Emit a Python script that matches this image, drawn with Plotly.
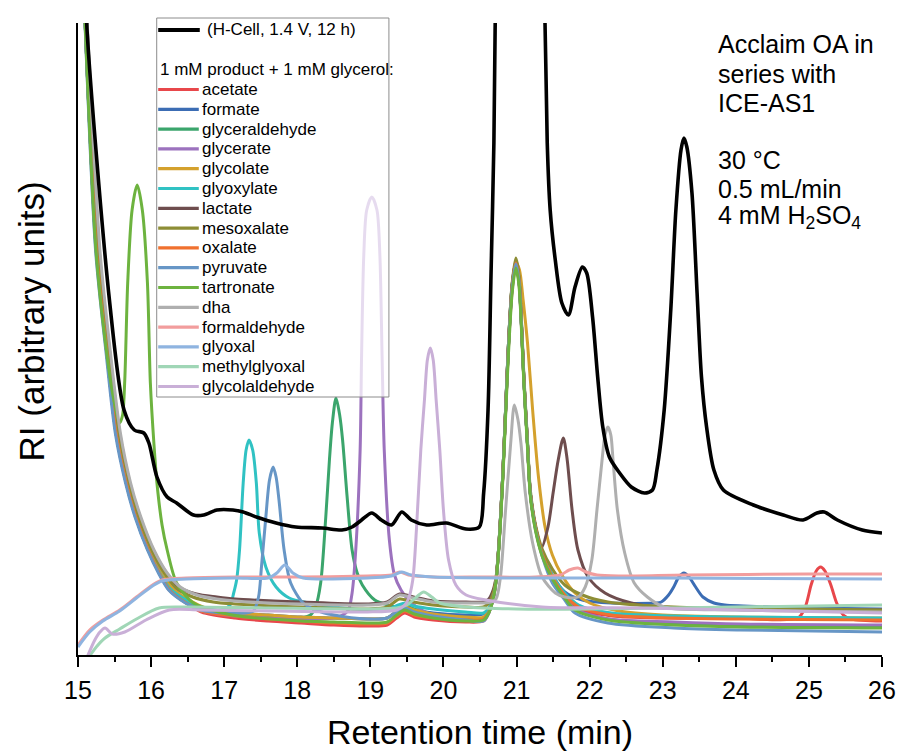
import plotly.graph_objects as go

# ---------------- data (retention time [min], RI signal [arb. units]) ----------------
hcell = [(15.10,700),(15.12,630),(15.43,355),(15.63,245),(15.77,225),(15.90,222),(15.97,212),(16.08,178),
         (16.22,158),(16.35,152),(16.58,140),(16.72,140),(16.90,145),(17.12,145),(17.26,143),(17.44,138),
         (17.71,132),(17.98,128),(18.34,127),(18.61,125),(18.75,128),(18.88,135),(19.02,142),(19.15,135),
         (19.29,130),(19.43,143),(19.56,135),(19.77,130),(20.04,132),(20.31,126),(20.49,128),(20.55,162),
         (20.61,245),(20.65,378),(20.69,512),(20.72,700),(20.85,1100),(21.05,1300),(21.25,1000),(21.39,630),
         (21.42,512),(21.46,445),(21.53,395),(21.62,352),(21.71,340),(21.80,368),(21.90,388),(21.96,382),
         (22.04,338),(22.11,278),(22.18,228),(22.27,198),(22.41,182),(22.57,168),(22.75,162),(22.86,165),
         (22.92,185),(23.02,245),(23.11,345),(23.18,445),(23.25,505),(23.29,517),(23.33,508),(23.40,462),
         (23.47,362),(23.53,278),(23.60,228),(23.70,185),(23.83,165),(24.24,150),(24.65,140),(24.92,135),
         (25.11,142),(25.21,143),(25.39,135),(25.73,125),(26.0,122)]

acetate = [(15.06,700),(15.25,405),(15.39,305),(15.52,222),(15.66,172),(15.79,138),(15.96,105),(16.11,82),
           (16.25,65),(16.48,52),(16.69,43),(17.15,37),(17.6,34),(18.05,32),(18.5,30),(18.96,29),(19.23,30),
           (19.36,37),(19.47,42),(19.6,38),(19.86,35),(20.3,33),(20.55,34),(20.62,42),(20.68,56),(20.72,74),
           (20.76,110),(20.81,175),(20.85,242),(20.89,308),(20.94,365),(20.99,390),(21.03,375),(21.06,340),
           (21.10,275),(21.15,210),(21.19,160),(21.26,126),(21.35,100),(21.49,76),(21.66,58),(21.85,46),
           (22.3,39),(23.0,37),(24.0,37),(24.85,37),(24.95,48),(25.03,70),(25.10,84),(25.16,88),(25.22,84),
           (25.30,70),(25.38,52),(25.47,40),(25.58,36),(26.0,34)]

formate = [(15.06,700),(15.25,405),(15.39,305),(15.52,222),(15.66,172),(15.79,138),(15.96,105),(16.11,83),
           (16.25,67),(16.48,55),(16.69,47),(17.15,42),(17.6,40),(18.05,38),(18.5,37),(18.96,36),(19.23,37),
           (19.36,44),(19.47,48),(19.6,45),(19.86,42),(20.3,40),(20.55,41),(20.62,46),(20.68,58),(20.72,75),
           (20.76,112),(20.81,178),(20.85,245),(20.89,312),(20.94,370),(20.99,393),(21.03,378),(21.06,343),
           (21.10,277),(21.15,211),(21.19,161),(21.26,128),(21.35,103),(21.49,80),(21.66,63),(21.9,55),
           (22.3,52),(22.9,52),(22.98,53),(23.08,60),(23.15,68),(23.22,78),(23.29,82),(23.36,78),(23.45,68),
           (23.55,58),(23.70,52),(23.85,50),(24.5,48),(26.0,46)]

glyceraldehyde = [(15.06,700),(15.25,405),(15.39,305),(15.52,222),(15.66,172),(15.79,138),(15.96,105),
                  (16.11,83),(16.25,66),(16.48,53),(16.69,45),(17.15,40),(17.6,38),(18.05,37),(18.18,40),
                  (18.25,48),(18.32,72),(18.39,138),(18.44,195),(18.48,232),(18.53,257),(18.58,240),
                  (18.62,215),(18.68,160),(18.75,105),(18.82,82),(18.89,70),(19.06,55),(19.24,50),(19.36,48),
                  (19.47,50),(19.6,46),(19.86,40),(20.3,36),(20.55,36),(20.62,43),(20.68,57),(20.72,75),
                  (20.76,111),(20.81,177),(20.85,244),(20.89,310),(20.94,368),(20.99,392),(21.03,377),
                  (21.06,342),(21.10,276),(21.15,211),(21.19,161),(21.26,127),(21.35,101),(21.49,78),
                  (21.66,58),(21.80,46),(22.25,36),(23.15,32),(24.06,30),(26.0,29)]

glycerate = [(15.06,700),(15.25,405),(15.39,305),(15.52,222),(15.66,172),(15.79,138),(15.96,105),(16.11,82),
             (16.25,65),(16.48,52),(16.69,44),(17.15,39),(17.6,37),(18.05,36),(18.5,37),(18.62,40),(18.70,45),
             (18.75,62),(18.80,105),(18.86,205),(18.88,300),(18.91,400),(18.95,445),(19.02,458),(19.09,445),
             (19.13,400),(19.16,300),(19.19,205),(19.26,115),(19.33,80),(19.42,65),(19.52,55),(19.7,45),
             (19.86,40),(20.3,35),(20.55,35),(20.62,43),(20.68,57),(20.72,75),(20.76,111),(20.81,177),
             (20.85,244),(20.89,310),(20.94,368),(20.99,392),(21.03,377),(21.06,342),(21.10,276),(21.15,211),
             (21.19,161),(21.26,127),(21.35,101),(21.49,78),(21.66,58),(21.8,46),(22.25,36),(23.15,33),
             (24.06,31),(26.0,30)]

glycolate = [(15.06,700),(15.26,405),(15.40,305),(15.54,222),(15.68,172),(15.81,138),(15.98,105),(16.14,82),
             (16.30,66),(16.52,55),(16.75,47),(17.15,42),(17.6,40),(18.05,38),(18.5,37),(18.96,36),(19.23,37),
             (19.38,44),(19.48,48),(19.6,45),(19.86,41),(20.3,38),(20.55,38),(20.62,45),(20.68,58),(20.72,75),
             (20.76,112),(20.81,178),(20.85,245),(20.89,312),(20.94,370),(20.99,393),(21.04,385),(21.09,355),
             (21.15,312),(21.22,245),(21.30,178),(21.39,128),(21.49,100),(21.62,80),(21.80,62),(22.0,52),
             (22.4,44),(23.0,40),(24.0,38),(26.0,37)]

glyoxylate = [(15.06,700),(15.25,405),(15.39,305),(15.52,222),(15.66,172),(15.79,138),(15.96,105),(16.11,83),
              (16.25,67),(16.48,55),(16.69,48),(16.95,45),(17.08,50),(17.13,62),(17.17,75),(17.21,105),
              (17.26,172),(17.30,205),(17.34,215),(17.39,205),(17.44,172),(17.48,122),(17.57,88),(17.71,68),
              (17.89,57),(18.16,52),(18.5,48),(18.96,45),(19.23,45),(19.38,50),(19.48,52),(19.6,49),(19.86,46),
              (20.3,43),(20.55,42),(20.62,47),(20.68,59),(20.72,76),(20.76,112),(20.81,178),(20.85,245),
              (20.89,311),(20.94,369),(20.99,392),(21.03,377),(21.06,342),(21.10,276),(21.15,211),(21.19,161),
              (21.26,128),(21.35,103),(21.49,80),(21.66,62),(21.85,50),(22.3,42),(23.15,39),(24.06,38),(26.0,37)]

lactate = [(15.08,700),(15.29,405),(15.43,305),(15.57,222),(15.71,172),(15.85,138),(16.03,105),(16.21,82),
           (16.38,68),(16.62,61),(16.9,58),(17.15,56),(18.05,53),(18.96,51),(19.23,53),(19.40,61),(19.59,58),
           (19.86,54),(20.31,53),(20.55,53),(20.62,56),(20.68,65),(20.72,78),(20.76,112),(20.81,178),
           (20.85,245),(20.89,312),(20.94,370),(20.99,394),(21.03,379),(21.06,344),(21.10,277),(21.15,211),
           (21.19,161),(21.26,128),(21.34,107),(21.43,128),(21.50,162),(21.57,195),(21.64,217),(21.69,197),
           (21.76,145),(21.84,105),(21.98,78),(22.21,62),(22.57,52),(23.02,47),(24.0,46),(26.0,45)]

mesoxalate = [(15.07,700),(15.28,405),(15.42,305),(15.56,222),(15.70,172),(15.83,138),(16.01,105),(16.18,82),
              (16.34,67),(16.57,58),(16.85,53),(17.15,51),(18.05,48),(18.96,46),(19.23,48),(19.40,56),
              (19.59,53),(19.86,50),(20.31,48),(20.55,48),(20.62,52),(20.68,62),(20.72,77),(20.76,112),
              (20.81,178),(20.85,245),(20.89,312),(20.94,372),(20.99,397),(21.03,382),(21.06,347),(21.10,280),
              (21.15,214),(21.19,164),(21.26,130),(21.35,106),(21.49,86),(21.66,70),(21.90,60),(22.25,53),
              (23.15,48),(25.0,46),(26.0,45)]

oxalate = [(15.06,700),(15.25,405),(15.39,305),(15.52,222),(15.66,172),(15.79,138),(15.96,105),(16.11,82),
           (16.25,65),(16.48,52),(16.69,44),(17.15,39),(17.6,36),(18.05,34),(18.5,32),(18.96,31),(19.23,32),
           (19.36,39),(19.47,44),(19.6,40),(19.86,37),(20.3,35),(20.55,36),(20.62,43),(20.68,57),(20.72,75),
           (20.76,111),(20.81,177),(20.85,244),(20.89,310),(20.94,368),(20.99,392),(21.03,377),(21.06,342),
           (21.10,276),(21.15,211),(21.19,161),(21.26,127),(21.35,101),(21.49,78),(21.66,60),(21.85,48),
           (22.3,40),(23.15,37),(24.06,36),(26.0,35)]

pyruvate = [(15.06,700),(15.24,405),(15.38,305),(15.51,222),(15.65,172),(15.78,138),(15.95,105),(16.10,82),
            (16.24,65),(16.47,52),(16.68,45),(17.0,42),(17.30,42),(17.40,44),(17.47,58),(17.51,88),(17.57,138),
            (17.62,175),(17.67,188),(17.71,178),(17.75,155),(17.82,105),(17.91,72),(18.08,52),(18.25,45),
            (18.5,40),(18.96,36),(19.23,37),(19.36,43),(19.47,47),(19.6,43),(19.86,39),(20.3,35),(20.55,34),
            (20.62,42),(20.68,56),(20.72,74),(20.76,110),(20.81,176),(20.85,243),(20.89,309),(20.94,367),
            (20.99,391),(21.03,376),(21.06,341),(21.10,275),(21.15,210),(21.19,160),(21.26,125),(21.35,99),
            (21.49,72),(21.66,55),(21.80,42),(22.25,32),(23.15,27),(24.06,25),(26.0,23)]

tartronate = [(15.06,700),(15.24,410),(15.37,315),(15.49,255),(15.57,232),(15.61,240),(15.64,275),(15.68,372),
              (15.74,445),(15.81,470),(15.88,445),(15.95,372),(15.99,272),(16.04,210),(16.08,172),(16.15,130),
              (16.22,105),(16.35,72),(16.58,52),(16.92,43),(17.3,38),(18.05,34),(18.5,33),(18.96,32),(19.23,33),
              (19.36,40),(19.47,45),(19.6,41),(19.86,37),(20.3,34),(20.55,35),(20.62,42),(20.68,56),(20.72,74),
              (20.76,109),(20.81,173),(20.85,238),(20.89,302),(20.94,362),(20.99,387),(21.03,372),(21.06,337),
              (21.10,272),(21.15,207),(21.19,158),(21.26,124),(21.35,99),(21.49,76),(21.66,57),(21.80,45),
              (22.25,35),(23.15,30),(24.06,28),(26.0,27)]

dha = [(15.08,700),(15.30,405),(15.44,305),(15.58,222),(15.72,172),(15.86,138),(16.04,105),(16.22,82),
       (16.40,68),(16.63,60),(16.9,56),(17.15,54),(18.05,51),(18.96,50),(19.23,52),(19.40,60),(19.59,57),
       (19.86,53),(20.31,52),(20.55,52),(20.65,53),(20.72,56),(20.78,78),(20.85,145),(20.92,212),(20.97,250),
       (21.02,235),(21.06,212),(21.12,162),(21.22,112),(21.35,78),(21.53,62),(21.66,58),(21.84,58),(21.94,68),
       (22.03,95),(22.10,145),(22.17,195),(22.21,220),(22.25,228),(22.29,220),(22.32,195),(22.38,145),
       (22.48,102),(22.61,72),(22.79,58),(23.02,48),(24.0,45),(26.0,43)]

formaldehyde = [(15.0,10),(15.16,25),(15.34,35),(15.57,45),(15.80,58),(16.02,70),(16.15,75),(16.48,77),
                (17.15,78),(18.0,78),(18.96,79),(19.29,80),(19.40,83),(19.52,80),(19.86,78),(20.58,78),
                (21.26,78),(21.60,80),(21.72,85),(21.84,87),(21.95,83),(22.1,80),(22.4,79),(23.3,80),
                (25.0,81),(26.0,81)]

glyoxal = [(15.0,8),(15.16,23),(15.34,34),(15.57,44),(15.80,57),(16.02,69),(16.15,74),(16.48,76),(17.15,77),
           (17.6,77),(17.72,82),(17.83,90),(17.94,82),(18.08,77),(18.96,77),(19.29,79),(19.43,83),(19.56,80),
           (19.86,78),(21.0,77),(23.0,77),(26.0,76)]

methylglyoxal = [(15.14,-3),(15.25,8),(15.37,17),(15.57,26),(15.80,36),(16.11,47),(16.48,48),(17.60,47),
                 (18.96,46),(19.36,47),(19.50,50),(19.63,58),(19.73,63),(19.84,58),(19.95,52),(20.31,48),
                 (21.0,46),(22.0,46),(24.0,48),(26.0,50)]

glycolaldehyde = [(15.12,-3),(15.23,15),(15.30,23),(15.37,27),(15.47,21),(15.64,23),(15.93,35),(16.25,45),
                  (16.69,45),(18.96,43),(19.36,45),(19.47,50),(19.52,56),(19.58,75),(19.63,125),(19.69,205),
                  (19.74,255),(19.78,295),(19.82,307),(19.86,295),(19.90,255),(19.95,205),(20.00,145),
                  (20.07,95),(20.17,70),(20.31,60),(20.58,55),(21.35,48),(22.71,47),(26.0,42)]

product_names = ["acetate", "formate", "glyceraldehyde", "glycerate", "glycolate", "glyoxylate", "lactate",
                 "mesoxalate", "oxalate", "pyruvate", "tartronate", "dha", "formaldehyde", "glyoxal",
                 "methylglyoxal", "glycolaldehyde"]
product_series = [acetate, formate, glyceraldehyde, glycerate, glycolate, glyoxylate, lactate, mesoxalate,
                  oxalate, pyruvate, tartronate, dha, formaldehyde, glyoxal, methylglyoxal, glycolaldehyde]
product_colors = ["#E8474B", "#3C6DB4", "#3BA56C", "#9C72BE", "#D4A12D", "#30C2C3", "#6E4D4E", "#8D8D35",
                  "#F0712F", "#6796C6", "#6DB33F", "#AFAFAF", "#F29D9D", "#8FB4E0", "#A0D6B6", "#C9AFD7"]
hcell_label = "(H-Cell, 1.4 V, 12 h)"
legend_title = "1 mM product + 1 mM glycerol:"
x_ticks = list(range(15, 27))
info_lines = ["Acclaim OA in", "series with", "ICE-AS1", "30 °C", "0.5 mL/min", "4 mM H<sub>2</sub>SO<sub>4</sub>"]

FONT = "Liberation Sans, Arial, sans-serif"

# ---------------- figure ----------------
fig = go.Figure()
for name, series, color in zip(product_names, product_series, product_colors):
    fig.add_trace(go.Scatter(x=[p[0] for p in series], y=[p[1] for p in series], mode="lines", name=name,
                             line=dict(color=color, width=3, shape="spline", smoothing=0.8),
                             showlegend=False))
fig.add_trace(go.Scatter(x=[p[0] for p in hcell], y=[p[1] for p in hcell], mode="lines", name=hcell_label,
                         line=dict(color="black", width=3.6, shape="spline", smoothing=0.8), showlegend=False))

W, H = 908, 751
# plot area in window pixels: x 78..890, y 23..655
PL, PR, PT, PB = 78, 890, 23, 655
def px(xp):
    return (xp - PL) / (PR - PL)
def py(yp):
    return (PB - yp) / (PB - PT)

shapes = []
annotations = []
# legend box (semi transparent, above data)
shapes.append(dict(type="rect", xref="paper", yref="paper", x0=px(157.5), x1=px(392), y0=py(397), y1=py(18),
                   fillcolor="rgba(255,255,255,0.75)", line=dict(color="#8c8c8c", width=1), layer="above"))
shapes.append(dict(type="line", xref="paper", yref="paper", x0=px(159), x1=px(201), y0=py(30), y1=py(30),
                   line=dict(color="black", width=4), layer="above"))
annotations.append(dict(text=hcell_label, xref="paper", yref="paper", x=px(206), y=py(30), xanchor="left",
                        yanchor="middle", showarrow=False, font=dict(size=17, color="black", family=FONT)))
annotations.append(dict(text=legend_title, xref="paper", yref="paper", x=px(159), y=py(70), xanchor="left",
                        yanchor="middle", showarrow=False, font=dict(size=17, color="black", family=FONT)))
for i, (name, color) in enumerate(zip(product_names, product_colors)):
    yy = 89.5 + 19.8 * i
    shapes.append(dict(type="line", xref="paper", yref="paper", x0=px(159), x1=px(200), y0=py(yy), y1=py(yy),
                       line=dict(color=color, width=3.2), layer="above"))
    annotations.append(dict(text=name, xref="paper", yref="paper", x=px(201), y=py(yy), xanchor="left",
                            yanchor="middle", showarrow=False, font=dict(size=17, color="black", family=FONT)))

for line, yy in zip(info_lines, [44, 74, 103, 160, 189, 217]):
    annotations.append(dict(text=line, xref="paper", yref="paper", x=px(722), y=py(yy), xanchor="left",
                            yanchor="middle", showarrow=False, font=dict(size=25, color="black", family=FONT)))

annotations.append(dict(text="RI (arbitrary units)", xref="paper", yref="paper", x=px(31), y=py(321),
                        xanchor="center", yanchor="middle", textangle=-90, showarrow=False,
                        font=dict(size=35, color="black", family=FONT)))
annotations.append(dict(text="Retention time (min)", xref="paper", yref="paper", x=px(484), y=py(732),
                        xanchor="center", yanchor="middle", showarrow=False,
                        font=dict(size=34, color="black", family=FONT)))

fig.update_layout(
    width=W, height=H,
    margin=dict(l=PL, r=W - PR, t=PT, b=H - PB, pad=0),
    paper_bgcolor="white", plot_bgcolor="white",
    font=dict(family=FONT, color="black"),
    showlegend=False,
    hovermode=False,
    shapes=shapes, annotations=annotations,
    xaxis=dict(range=[15, 26], tickvals=x_ticks, ticktext=[str(v) for v in x_ticks],
               showgrid=False, zeroline=False, showline=True, linecolor="black", linewidth=2,
               ticks="outside", ticklen=10, tickwidth=2, tickcolor="black",
               tickfont=dict(size=25, family=FONT, color="black"), ticklabelstandoff=2,
               minor=dict(dtick=0.5, ticks="outside", ticklen=5, tickwidth=2, tickcolor="black")),
    yaxis=dict(range=[0, 632], showgrid=False, zeroline=False, showline=True, linecolor="black",
               linewidth=2, ticks="", showticklabels=False),
)

# remove the default 8 px page margin so the 908x751 figure fills the window exactly
fig.write_html("out.html", config={"displayModeBar": False, "staticPlot": True},
               post_script="document.body.style.margin='0px';document.body.style.overflow='hidden';")
